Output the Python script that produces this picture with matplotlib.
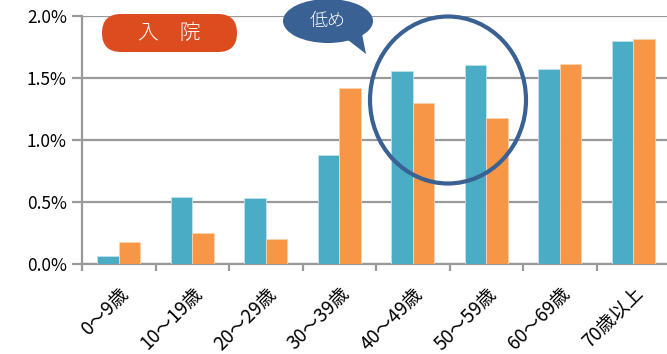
import matplotlib.pyplot as plt
import numpy as np
from matplotlib.patches import Ellipse, FancyBboxPatch, Polygon
from matplotlib.transforms import IdentityTransform
from matplotlib.ticker import PercentFormatter

plt.rcParams['font.family'] = ['Noto Sans CJK JP', 'DejaVu Sans']

categories = ['0～9歳', '10～19歳', '20～29歳', '30～39歳',
              '40～49歳', '50～59歳', '60～69歳', '70歳以上']
series_a = [0.065, 0.54, 0.53, 0.88, 1.555, 1.605, 1.57, 1.80]
series_b = [0.18, 0.25, 0.20, 1.42, 1.295, 1.18, 1.61, 1.815]
box_label = '入　院'
bubble_label = '低め'

W, H = 667, 354
fig = plt.figure(figsize=(W / 100, H / 100), dpi=100)
ax = fig.add_axes([82 / W, 1 - 264 / H, 588 / W, 248 / H])

x = np.arange(len(categories))
bw = 0.29
ax.bar(x - bw / 2, np.array(series_a) / 100, bw, color='#4BACC6',
       edgecolor='#BFE3EC', linewidth=0.6, zorder=3)
ax.bar(x + bw / 2, np.array(series_b) / 100, bw, color='#F79646',
       edgecolor='#FBD3B0', linewidth=0.6, zorder=3)

ax.set_xlim(-0.5, len(categories) - 0.5)
ax.set_ylim(0, 0.02)
ax.set_yticks(np.arange(0, 0.0201, 0.005))
ax.yaxis.set_major_formatter(PercentFormatter(1.0, decimals=1))
ax.grid(axis='y', color='#999999', linewidth=1.6, zorder=0)

ax.set_xticks(x)
ax.set_xticklabels(categories, rotation=45, ha='right', rotation_mode='anchor',
                   fontsize=13.5)
ax.set_xticks(np.arange(-0.5, len(categories)), minor=True)
ax.tick_params(axis='x', which='major', length=0, pad=14)
ax.tick_params(axis='x', which='minor', length=5, width=1.6, color='#999999')
ax.tick_params(axis='y', length=7, width=1.6, color='#999999', labelsize=12.5,
               pad=4)

for side in ['top', 'right']:
    ax.spines[side].set_visible(False)
for side in ['left', 'bottom']:
    ax.spines[side].set_color('#999999')
    ax.spines[side].set_linewidth(1.6)

# callouts, placed in pixel coordinates
px = IdentityTransform()
fig.add_artist(FancyBboxPatch((102, H - 52), 135, 38,
                              boxstyle='round,pad=0,rounding_size=19',
                              facecolor='#DC4C1E', edgecolor='none',
                              transform=px))
fig.text(169.5 / W, 1 - 33 / H, box_label, color='white', fontsize=15,
         fontweight='light', ha='center', va='center')

bubble_color = '#3A6194'
fig.add_artist(Polygon([(348, H - 40), (362, H - 34), (366, H - 54)],
                       closed=True, facecolor=bubble_color, edgecolor='none',
                       transform=px))
fig.add_artist(Ellipse((328, H - 21), 90, 44, facecolor=bubble_color,
                       edgecolor='none', transform=px))
fig.text(328 / W, 1 - 21 / H, bubble_label, color='white', fontsize=13,
         fontweight='light', ha='center', va='center')

fig.add_artist(Ellipse((448, H - 100), 156, 167, facecolor='none',
                       edgecolor=bubble_color, linewidth=3, transform=px))

fig.savefig('out.png', dpi=100)
